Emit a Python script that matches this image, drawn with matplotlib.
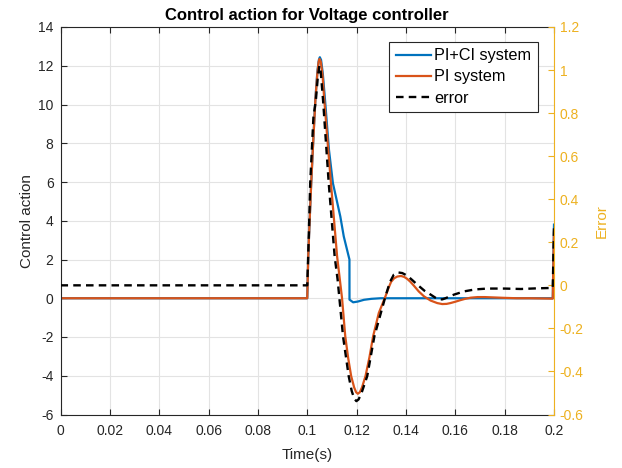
import matplotlib
matplotlib.use("Agg")
import matplotlib.pyplot as plt
from matplotlib.ticker import FixedLocator

plt.rcParams['font.family'] = ['Liberation Sans', 'DejaVu Sans']

# ---- data ----
t_pi = [0.0, 0.1000, 0.1004, 0.1010, 0.1016, 0.1025, 0.1033, 0.1041, 0.1046, 0.1050,
        0.1055, 0.1062, 0.1069, 0.1085, 0.1096, 0.1121, 0.1141, 0.1154, 0.1166, 0.1178,
        0.1190, 0.1198, 0.1205, 0.1213, 0.1222, 0.1236, 0.1252, 0.1267, 0.1290, 0.1317,
        0.1330, 0.1340, 0.1352, 0.1365, 0.1380, 0.1393, 0.1405, 0.1418, 0.1432, 0.1452,
        0.1473, 0.1500, 0.1527, 0.1547, 0.1565, 0.1580, 0.1600, 0.1620, 0.1640, 0.1663,
        0.1690, 0.1720, 0.1760, 0.1800, 0.1850, 0.1900, 0.1995, 0.2000]
u_pi = [0.0, 0.0, 2.16, 4.1, 5.94, 8.3, 10.24, 11.6, 12.2, 12.35,
        12.2, 11.5, 10.24, 7.66, 5.94, 2.16, 0.0, -1.96, -3.1, -4.02,
        -4.6, -4.85, -4.93, -4.85, -4.6, -4.02, -3.05, -1.96, -0.76, 0.10,
        0.55, 0.85, 1.03, 1.12, 1.15, 1.10, 1.00, 0.85, 0.65, 0.35,
        0.10, -0.12, -0.25, -0.30, -0.29, -0.25, -0.18, -0.10, -0.03, 0.03,
        0.06, 0.06, 0.04, 0.02, 0.0, 0.0, -0.02, 3.4]

t_pici = [0.0, 0.1000, 0.1004, 0.1010, 0.1016, 0.1025, 0.1033, 0.1041, 0.1047, 0.1051,
          0.1056, 0.1063, 0.1072, 0.1088, 0.1104, 0.1134, 0.1148, 0.1171, 0.11712, 0.1186,
          0.1205, 0.1230, 0.1260, 0.1297, 0.1600, 0.1995, 0.2000]
u_pici = [0.0, 0.0, 2.16, 4.1, 5.94, 8.3, 10.3, 11.7, 12.3, 12.44,
          12.3, 11.6, 10.24, 7.66, 5.94, 4.22, 3.19, 2.0, -0.07, -0.21,
          -0.17, -0.08, -0.03, 0.0, 0.0, 0.0, 3.8]

t_err = [0.0, 0.1000, 0.1006, 0.1012, 0.1025, 0.1035, 0.1043, 0.1049, 0.1054, 0.1064,
         0.1087, 0.1111, 0.1123, 0.1145, 0.1168, 0.1180, 0.1190, 0.1199, 0.1208, 0.1220,
         0.1243, 0.1272, 0.1317, 0.1335, 0.1351, 0.1368, 0.1385, 0.1405, 0.1425, 0.1446,
         0.1475, 0.1500, 0.1520, 0.1534, 0.1548, 0.1560, 0.1595, 0.1636, 0.1680, 0.1730,
         0.1800, 0.1866, 0.1930, 0.1995, 0.2000]
e_val = [0.0, 0.0, 0.22, 0.475, 0.78, 0.861, 0.97, 1.02, 1.0, 0.861,
         0.475, 0.135, 0.027, -0.237, -0.422, -0.49, -0.525, -0.538, -0.53, -0.50,
         -0.422, -0.237, -0.051, 0.015, 0.050, 0.060, 0.057, 0.045, 0.025, 0.003,
         -0.025, -0.043, -0.058, -0.066, -0.065, -0.060, -0.043, -0.028, -0.019, -0.015,
         -0.015, -0.017, -0.014, -0.012, 0.27]

x_ticks = [0, 0.02, 0.04, 0.06, 0.08, 0.1, 0.12, 0.14, 0.16, 0.18, 0.2]
x_labels = ['0', '0.02', '0.04', '0.06', '0.08', '0.1', '0.12', '0.14', '0.16', '0.18', '0.2']
yl_ticks = [-6, -4, -2, 0, 2, 4, 6, 8, 10, 12, 14]
yr_ticks = [-0.6, -0.4, -0.2, 0, 0.2, 0.4, 0.6, 0.8, 1.0, 1.2]
yr_labels = ['-0.6', '-0.4', '-0.2', '0', '0.2', '0.4', '0.6', '0.8', '1', '1.2']

BLUE = '#0072BD'
ORANGE = '#D95319'
YELLOW = '#EDB120'
AX = '#262626'

fig = plt.figure(figsize=(6.22, 4.68), dpi=100)
ax = fig.add_axes([60.5/622, (468-414.5)/468, (554-60.5)/622, (414.5-27)/468])
ax2 = ax.twinx()

l1, = ax.plot(t_pici, u_pici, color=BLUE, lw=1.6, label='PI+CI system')
l2, = ax.plot(t_pi, u_pi, color=ORANGE, lw=1.6, label='PI system')
l3, = ax2.plot(t_err, e_val, color='black', lw=1.7, ls=(0, (3.2, 2.2)), label='error')

ax.set_xlim(0, 0.2)
ax.set_ylim(-6, 14)
ax2.set_ylim(-0.6, 1.2)

ax.xaxis.set_major_locator(FixedLocator(x_ticks))
ax.set_xticklabels(x_labels)
ax.set_yticks(yl_ticks)
ax.set_yticklabels([str(v) for v in yl_ticks])
ax2.set_yticks(yr_ticks)
ax2.set_yticklabels(yr_labels)

ax.grid(True, color='#e3e3e3', lw=0.8)
ax.set_axisbelow(True)

ax.tick_params(axis='both', direction='in', length=4, width=0.8, colors=AX,
               labelsize=10, top=True)
ax.tick_params(axis='x', pad=7)
ax.tick_params(axis='y', right=False, pad=5)
ax2.tick_params(axis='y', direction='in', length=4, width=0.8, colors=YELLOW,
                labelsize=10, pad=4)

for s in ['left', 'bottom', 'top']:
    ax.spines[s].set_color(AX)
    ax.spines[s].set_linewidth(0.8)
for s in ['left', 'bottom', 'top']:
    ax2.spines[s].set_visible(False)
ax2.spines['right'].set_color(YELLOW)
ax2.spines['right'].set_linewidth(0.8)
ax.spines['right'].set_visible(False)

ax.set_xlabel('Time(s)', fontsize=11, color=AX, labelpad=7)
ax.set_ylabel('Control action', fontsize=11, color=AX, labelpad=3)
ax2.set_ylabel('Error', fontsize=11, color=YELLOW, labelpad=8)
ax.set_title('Control action for Voltage controller', fontsize=12,
             fontweight='bold', color='black', pad=5)

leg = ax2.legend(handles=[l1, l2, l3], loc='upper right',
                 bbox_to_anchor=(0.967, 0.962), prop={'size': 11.7}, frameon=True,
                 fancybox=False, edgecolor=AX, framealpha=1,
                 handlelength=2.15, handletextpad=0.2, borderpad=0.4,
                 labelspacing=0.38, borderaxespad=0)
leg.get_frame().set_linewidth(0.8)

fig.savefig('out.png', dpi=100)
